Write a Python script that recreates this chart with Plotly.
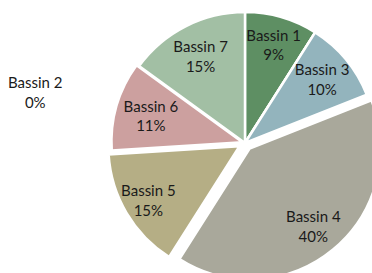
import plotly.graph_objects as go

labels = ["Bassin 1", "Bassin 2", "Bassin 3", "Bassin 4", "Bassin 5", "Bassin 6", "Bassin 7"]
values = [9, 0, 10, 40, 15, 11, 15]
colors = ["#5e8f63", "#8fa3a0", "#93b4bd", "#a9a89b", "#b5ae85", "#cca09f", "#a2bfa4"]

# style: explosion of slices and radial offsets of the labels
slice_pull = [0, 0, 0, 0.055, 0.05, 0.02, 0]
label_pull = [0, 0, 0, 0.09, 0, 0, 0.014]
outer_label_pull = [0, 0, 0, 0, 0.027, 0, 0]
label_on_outer = [False, False, False, False, True, False, False]

# layout geometry (pixels): pie centre and radius
CX, CY, R = 245, 143, 131
W, H = 390, 290


def domain(pulls):
    half = R * (1 + max(pulls))
    return dict(x=[(CX - half) / W, (CX + half) / W],
                y=[(H - (CY + half)) / H, (H - (CY - half)) / H])


total = sum(values)
font = dict(family="Lato", size=15, color="#1a1a1a")
clear = ["rgba(0,0,0,0)"] * len(values)
common = dict(labels=labels, values=values, sort=False, direction="clockwise",
              rotation=0, showlegend=False)

fig = go.Figure()
# slices
fig.add_trace(go.Pie(
    **common, pull=slice_pull,
    marker=dict(colors=colors, line=dict(color="white", width=2.5)),
    textinfo="none", domain=domain(slice_pull), hoverinfo="label+percent",
))
# labels (transparent rings so the text sits where the original puts it)
for pulls, hole, outer in [(label_pull, 0.46, False), (outer_label_pull, 0.66, True)]:
    pos = ["inside" if (v > 0 and o == outer) else "none"
           for v, o in zip(values, label_on_outer)]
    fig.add_trace(go.Pie(
        **common, pull=pulls, hole=hole,
        marker=dict(colors=clear, line=dict(width=0)),
        texttemplate="%{label}<br>%{percent:.0%}",
        textposition=pos, insidetextorientation="horizontal",
        textfont=font, domain=domain(pulls), hoverinfo="skip",
    ))

# zero-value slice label shown beside the pie
for lab, v in zip(labels, values):
    if v == 0:
        fig.add_annotation(
            x=35 / W, y=1 - 92 / H, xref="paper", yref="paper",
            xanchor="center", yanchor="middle",
            text=f"{lab}<br>{round(100 * v / total)}%",
            showarrow=False, font=font,
        )

fig.update_layout(
    width=W, height=H,
    margin=dict(l=0, r=0, t=0, b=0),
    paper_bgcolor="white",
    plot_bgcolor="white",
    uniformtext=dict(minsize=15, mode="show"),
)

fig.write_html(
    "out.html",
    config={"displayModeBar": False},
    post_script="document.body.style.margin='0';document.body.style.overflow='hidden';",
)
